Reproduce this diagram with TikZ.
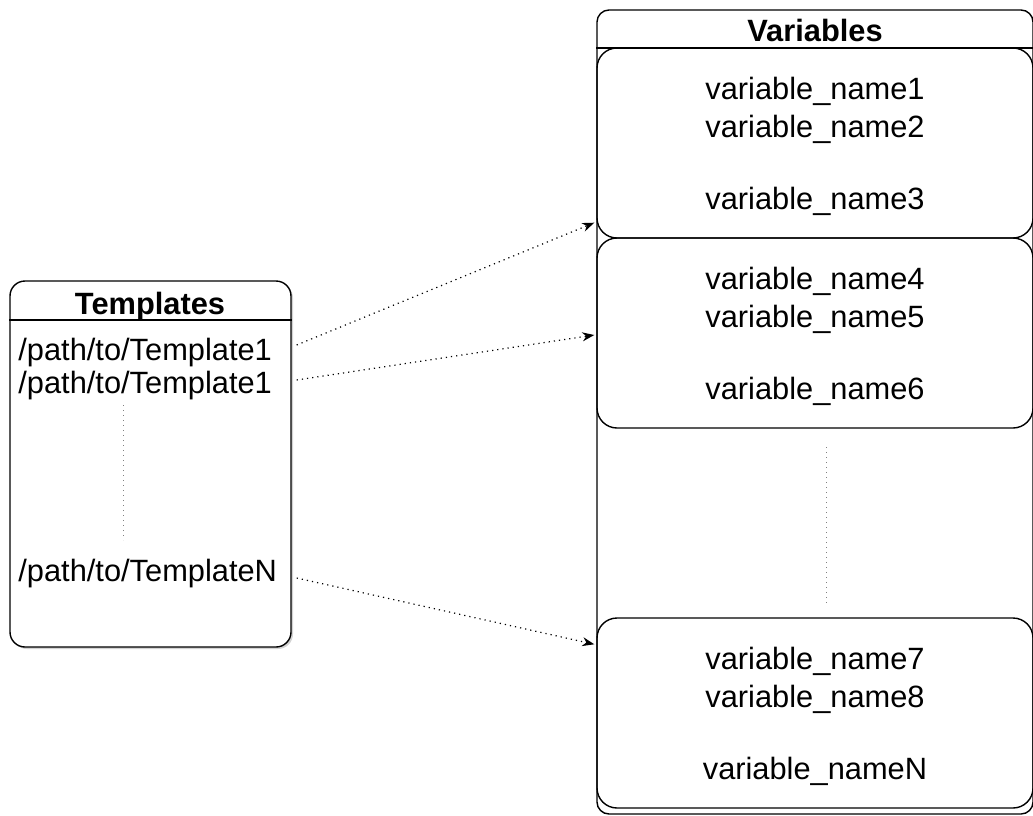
\documentclass[tikz,border=0pt]{standalone}
\usepackage{fontspec}
\setmainfont{Liberation Sans}
\usetikzlibrary{arrows.meta,calc,shadows}
\tikzset{box/.style={draw, line width=0.7pt, rounded corners=10pt, minimum width=218pt, minimum height=95pt}}
\tikzset{txt/.style={font=\fontsize{15.4}{19}\selectfont, inner sep=0pt}}
\tikzset{hd/.style={font=\bfseries\fontsize{15.4}{19}\selectfont, inner sep=0pt}}
\tikzset{link/.style={dotted, line width=0.6pt, ->, >={Stealth[length=6pt,width=4.5pt]}}}
\tikzset{gap/.style={dotted, gray, line width=0.5pt}}
\newcommand{\topstrut}{\rule{0pt}{15pt}}

\begin{document}
\begin{tikzpicture}[x=0.5pt,y=-0.5pt]
\useasboundingbox (0,0) rectangle (1033,815);
% templates
\node[draw, fill=white, line width=0.7pt, rounded corners=7.5pt, minimum width=140.5pt, minimum height=183pt,
  drop shadow={shadow xshift=1pt, shadow yshift=-1pt, opacity=0.35}] (tmpl) at (150.5,464) {};
\draw[line width=0.7pt] (tmpl.west |- 0,320) -- (tmpl.east |- 0,320);
\node[hd] (tmplhd) at (150,307) {Templates};
\node[txt, anchor=west] (t1) at (18,353) {/path/to/Template1};
\node[txt, anchor=west] (t2) at (18,386) {/path/to/Template1};
\node[txt, anchor=west] (tn) at (18,574) {/path/to/TemplateN};
\draw[gap] (123,405) -- (123,540);

% variables
\node[draw, line width=0.7pt, rounded corners=6pt, minimum width=218pt, minimum height=402pt, inner sep=0pt] (vars) at (815,412) {};
\draw[line width=0.7pt] (vars.west |- 0,48) -- (vars.east |- 0,48);
\node[hd] (varshd) at (815,30) {Variables};
\node[box, txt, align=center] (v1) at (815,143) {\topstrut variable\_name1\\variable\_name2\\[17pt]variable\_name3};
\node[box, txt, align=center] (v2) at (815,333) {\topstrut variable\_name4\\variable\_name5\\[17pt]variable\_name6};
\node[box, txt, align=center] (v3) at (815,713) {\topstrut variable\_name7\\variable\_name8\\[17pt]variable\_nameN};
\draw[gap] (826,447) -- (826,606);

% links
\draw[link] ($(tmpl.east |- t1)+(5,-8)$) -- ($(v1.south west)+(-2,-16)$);
\draw[link] ($(tmpl.east |- t2)+(5,-6)$) -- ($(v2.west)+(-2,2)$);
\draw[link] ($(tmpl.east |- tn)+(5,4)$) -- ($(v3.north west)+(-2,27)$);
\end{tikzpicture}
\end{document}
